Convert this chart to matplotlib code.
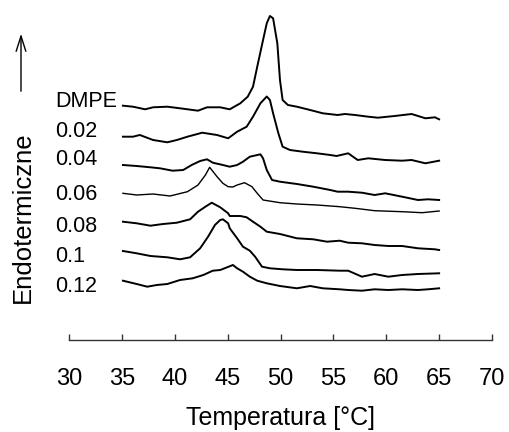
import matplotlib
matplotlib.use("Agg")
import matplotlib.pyplot as plt

plt.rcParams['font.family'] = ['Liberation Sans', 'DejaVu Sans']

# ---- data: temperature [°C] and stacked endothermic signal (a.u.) ----
dmpe_T = [35.1, 36.05, 37.2, 37.95, 39.3, 40.5, 42.2, 43.05, 44.3, 45.05, 45.2, 46.2, 46.9, 47.4,
          47.8, 48.35, 48.7, 49.0, 49.3, 49.7, 49.95, 50.2, 50.7, 51.55, 52.8, 54.0, 55.4, 56.1,
          57.05, 58.3, 59.2, 60.8, 62.4, 63.7, 64.6, 65.0]
dmpe_S = [234.3, 233.3, 230.7, 232.7, 233.3, 231.7, 229.3, 232.7, 232.7, 231.0, 230.7, 236.7, 243.3, 253.3,
          273.3, 300.0, 316.7, 324.0, 321.7, 296.7, 260.0, 240.0, 235.0, 233.3, 230.0, 226.7, 225.0, 226.0,
          225.0, 223.3, 222.3, 224.0, 226.0, 221.7, 222.7, 220.7]

c002_T = [35.1, 36.05, 36.7, 37.95, 39.3, 40.2, 41.2, 42.6, 44.0, 45.05, 45.9, 46.8, 47.4, 48.1, 48.7,
          49.0, 49.3, 49.8, 50.2, 50.9, 52.1, 53.45, 54.7, 55.3, 56.4, 57.3, 58.3, 59.9, 61.5, 62.4,
          63.7, 65.0]
c002_S = [203.3, 203.3, 205.0, 200.0, 197.7, 200.0, 203.3, 207.3, 205.0, 201.7, 208.3, 213.3, 223.3, 236.7, 243.5,
          240.0, 226.7, 206.7, 193.3, 190.0, 188.3, 186.7, 185.0, 184.0, 186.7, 180.0, 181.7, 180.0, 179.3, 180.0,
          176.7, 179.3]

c004_T = [35.1, 36.4, 37.7, 38.6, 39.8, 40.8, 41.6, 42.4, 43.05, 43.6, 44.55, 45.2, 45.9, 46.45, 47.1,
          48.1, 48.35, 48.7, 49.2, 49.95, 51.55, 53.1, 54.7, 55.4, 56.4, 57.7, 58.9, 59.9, 61.5, 63.0,
          63.95, 65.0]
c004_S = [175.0, 174.0, 172.7, 171.7, 169.3, 170.0, 175.0, 179.0, 180.7, 177.3, 175.0, 173.3, 175.0, 178.3, 183.3,
          185.7, 181.7, 170.0, 160.0, 158.3, 156.0, 153.3, 150.0, 148.3, 148.3, 147.3, 145.0, 146.7, 143.3, 140.0,
          140.7, 140.0]

c006_T = [35.1, 36.4, 37.95, 39.55, 41.2, 42.2, 42.9, 43.3, 44.0, 44.55, 45.05, 45.5, 45.9, 46.6, 47.3,
          47.8, 48.35, 49.95, 51.55, 53.45, 55.6, 57.05, 58.9, 61.5, 63.4, 65.0]
c006_S = [146.7, 145.0, 146.0, 144.0, 148.3, 155.0, 165.0, 172.7, 163.3, 156.7, 153.3, 153.0, 155.0, 157.3, 153.3,
          146.7, 140.0, 137.3, 136.0, 135.0, 133.3, 131.7, 129.3, 128.3, 127.3, 129.0]

c008_T = [35.1, 36.4, 37.7, 38.9, 40.2, 41.45, 42.2, 42.9, 43.5, 44.3, 45.05, 45.2, 46.2, 46.8, 47.4,
          48.1, 48.7, 49.95, 51.55, 53.1, 54.4, 55.6, 56.4, 57.7, 58.9, 60.2, 61.5, 63.0, 64.6, 65.0]
c008_S = [118.3, 116.7, 114.3, 116.0, 117.3, 120.7, 128.3, 133.3, 137.3, 132.7, 126.7, 124.0, 124.0, 122.7, 118.3,
          113.3, 108.3, 106.0, 101.7, 100.7, 98.3, 99.3, 97.3, 96.7, 95.0, 94.0, 94.0, 91.7, 90.7, 90.0]

c010_T = [35.1, 36.4, 37.7, 39.3, 40.5, 41.45, 42.4, 43.15, 43.8, 44.3, 44.55, 45.05, 45.2, 45.9, 46.45,
          47.1, 47.6, 48.25, 49.0, 50.2, 51.55, 53.45, 55.6, 56.4, 57.7, 58.9, 60.2, 61.5, 63.0, 65.0]
c010_S = [89.0, 86.7, 84.0, 82.7, 80.7, 82.7, 91.7, 103.3, 115.0, 120.0, 120.7, 116.7, 111.7, 101.7, 93.3,
          89.3, 83.3, 73.3, 71.7, 70.7, 70.0, 70.0, 69.3, 69.3, 63.3, 66.0, 63.3, 65.0, 66.0, 66.7]

c012_T = [35.1, 36.4, 37.4, 38.3, 39.3, 40.5, 41.7, 42.7, 43.6, 44.3, 44.95, 45.5, 45.9, 46.45, 47.1,
          47.8, 48.7, 49.95, 51.55, 52.8, 54.0, 55.6, 56.4, 57.7, 58.9, 60.2, 61.5, 63.0, 63.95, 65.0]
c012_S = [59.3, 56.0, 53.3, 55.0, 56.0, 60.0, 61.7, 65.0, 69.3, 70.0, 72.7, 75.0, 71.7, 68.3, 63.3,
          59.3, 56.7, 54.0, 51.7, 54.0, 51.7, 50.7, 50.0, 49.3, 50.7, 50.0, 50.7, 50.0, 50.7, 51.7]

series_labels = ["DMPE", "0.02", "0.04", "0.06", "0.08", "0.1", "0.12"]
series_T = [dmpe_T, c002_T, c004_T, c006_T, c008_T, c010_T, c012_T]
series_S = [dmpe_S, c002_S, c004_S, c006_S, c008_S, c010_S, c012_S]

x_ticks = [30, 35, 40, 45, 50, 55, 60, 65, 70]
x_label = "Temperatura [°C]"
y_label = "Endotermiczne"

# ---- layout / style ----
W, H = 509, 432
fig = plt.figure(figsize=(W / 100, H / 100), dpi=100)
ax = fig.add_axes([69 / W, 92 / H, 423 / W, 340 / H])
ax.set_xlim(30, 70)
ax.set_ylim(0, 340)

line_widths = [1.4, 1.4, 1.4, 1.0, 1.4, 1.4, 1.4]
for T, S, lw in zip(series_T, series_S, line_widths):
    ax.plot(T, S, color="black", lw=lw, solid_joinstyle="round")

# curve labels (left of the curves)
label_y = [233, 203, 175, 139.5, 108.5, 78.5, 48.5]
for lab, ly in zip(series_labels, label_y):
    ax.text(28.68, ly, lab, fontsize=15.5, ha="left", va="baseline", clip_on=False)

for s in ["left", "right", "top"]:
    ax.spines[s].set_visible(False)
ax.spines["bottom"].set_color("#333333")
ax.spines["bottom"].set_linewidth(1.0)
ax.set_yticks([])
ax.set_xticks(x_ticks)
ax.tick_params(axis="x", direction="in", length=4, width=1, color="#333333",
               labelsize=17, pad=20)
ax.set_xlabel(x_label, fontsize=18, labelpad=12)

fig.text(23 / W, 1 - 217 / H, y_label, rotation=90, fontsize=18.5, ha="center", va="center")

# arrow pointing up (endothermic direction)
ax.annotate("", xy=(21 / W, 1 - 31 / H), xytext=(21 / W, 1 - 94 / H),
            xycoords="figure fraction", textcoords="figure fraction",
            arrowprops=dict(arrowstyle="->,head_length=1.1,head_width=0.35", lw=1.0, color="black"))

fig.savefig("out.png", dpi=100)
